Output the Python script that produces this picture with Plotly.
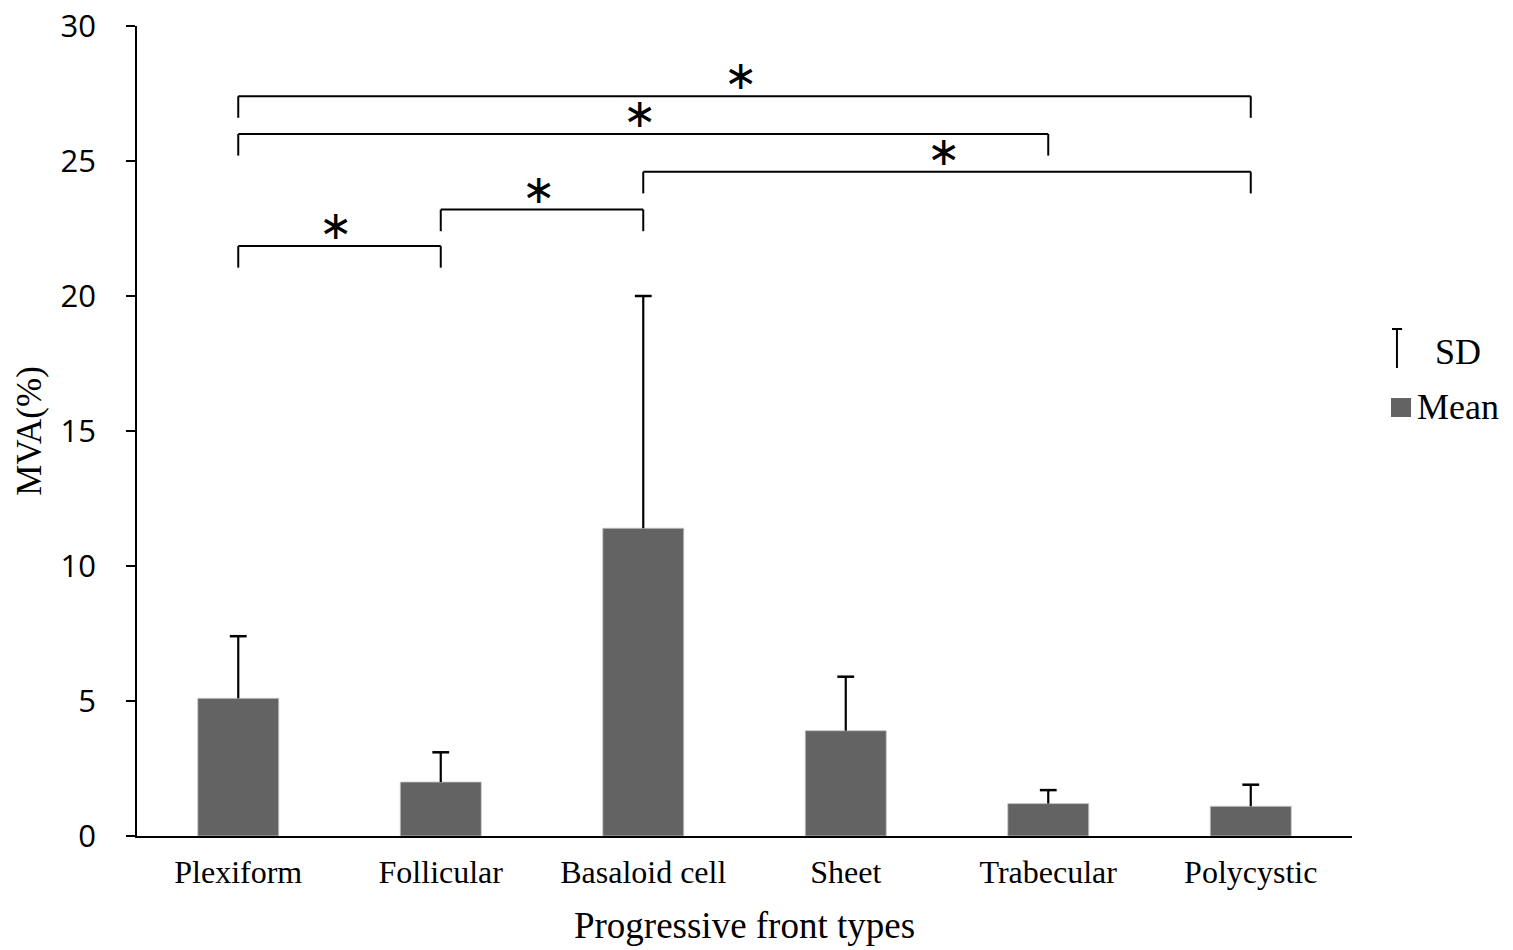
import plotly.graph_objects as go

categories = ["Plexiform", "Follicular", "Basaloid cell", "Sheet", "Trabecular", "Polycystic"]
mean_values = [5.1, 2.0, 11.4, 3.9, 1.2, 1.1]
sd_values = [2.3, 1.1, 8.6, 2.0, 0.5, 0.8]

# significance comparisons: (left category index, right category index, bracket height)
comparisons = [(0, 1, 21.85), (1, 2, 23.2), (2, 5, 24.6), (0, 4, 26.0), (0, 5, 27.4)]
bracket_drop = 0.8
star_label = "∗"

legend_labels = ["SD", "Mean"]

SERIF = "Liberation Serif, Times New Roman, serif"
SANS = "Open Sans, sans-serif"
BAR_COLOR = "#636363"

fig = go.Figure()

fig.add_trace(go.Bar(
    x=categories, y=mean_values, name="Mean",
    marker=dict(color=BAR_COLOR, line=dict(color="#c8c8c8", width=0.8)),
    width=0.4, showlegend=False,
))
# error bars (upper only, no lower cap)
fig.add_trace(go.Scatter(
    x=categories, y=mean_values, mode="markers",
    marker=dict(size=0.1, opacity=0), showlegend=False, hoverinfo="skip",
    error_y=dict(type="data", symmetric=False, array=sd_values,
                 arrayminus=[0] * len(sd_values), color="black",
                 thickness=2.2, width=0),
))
# caps at the top of each error bar
fig.add_trace(go.Scatter(
    x=categories, y=[m + s for m, s in zip(mean_values, sd_values)],
    mode="markers", showlegend=False, hoverinfo="skip",
    marker=dict(symbol="line-ew", size=12, color="black",
                line=dict(color="black", width=2.5)),
))

for i, j, h in comparisons:
    fig.add_shape(type="line", x0=i, x1=j, y0=h, y1=h, xref="x", yref="y",
                  line=dict(color="black", width=2))
    fig.add_shape(type="line", x0=i, x1=i, y0=h, y1=h - bracket_drop, xref="x", yref="y",
                  line=dict(color="black", width=2))
    fig.add_shape(type="line", x0=j, x1=j, y0=h, y1=h - bracket_drop, xref="x", yref="y",
                  line=dict(color="black", width=2))
    fig.add_annotation(x=(i + j) / 2 - 0.015, y=h, text=star_label, showarrow=False,
                       xref="x", yref="y", yanchor="bottom", yshift=-4,
                       font=dict(family="DejaVu Sans", size=40, color="black"))

# manual legend
fig.add_shape(type="line", xref="paper", yref="paper", x0=1.0370, x1=1.0370,
              y0=0.6259, y1=0.5778, line=dict(color="black", width=2))
fig.add_shape(type="line", xref="paper", yref="paper", x0=1.0329, x1=1.0412,
              y0=0.6259, y1=0.6259, line=dict(color="black", width=2))
fig.add_shape(type="rect", xref="paper", yref="paper", x0=1.0321, x1=1.0486,
              y0=0.5173, y1=0.5407, line=dict(width=0), fillcolor=BAR_COLOR)
fig.add_annotation(xref="paper", yref="paper", x=1.0665, y=0.5975, text=legend_labels[0],
                   showarrow=False, xanchor="left", yanchor="middle",
                   font=dict(family=SERIF, size=36, color="black"))
fig.add_annotation(xref="paper", yref="paper", x=1.0518, y=0.5296, text=legend_labels[1],
                   showarrow=False, xanchor="left", yanchor="middle",
                   font=dict(family=SERIF, size=36, color="black"))

fig.update_layout(
    width=1513, height=950,
    margin=dict(l=137, r=161, t=26, b=114, autoexpand=False),
    plot_bgcolor="white", paper_bgcolor="white",
    showlegend=False,
    xaxis=dict(
        type="category", range=[-0.5, 5.5],
        showline=True, linecolor="black", linewidth=2,
        ticks="", showgrid=False,
        tickfont=dict(family=SERIF, size=32, color="black"),
        ticklabelstandoff=7,
        title=dict(text="Progressive front types", standoff=23,
                   font=dict(family=SERIF, size=37, color="black")),
    ),
    yaxis=dict(
        range=[0, 30], tickvals=[0, 5, 10, 15, 20, 25, 30],
        showline=True, linecolor="black", linewidth=1.5,
        ticks="outside", ticklen=9, tickcolor="black", tickwidth=1.5,
        showgrid=False, zeroline=False,
        tickfont=dict(family=SANS, size=31, color="black"),
        ticklabelstandoff=24,
        title=dict(text="MVA(%)", standoff=8,
                   font=dict(family=SERIF, size=35, color="black")),
    ),
    font=dict(family=SERIF, color="black"),
)

fig.write_html(
    "out.html",
    config={"displayModeBar": False},
    post_script="document.body.style.margin='0';document.body.style.overflow='hidden';",
)
